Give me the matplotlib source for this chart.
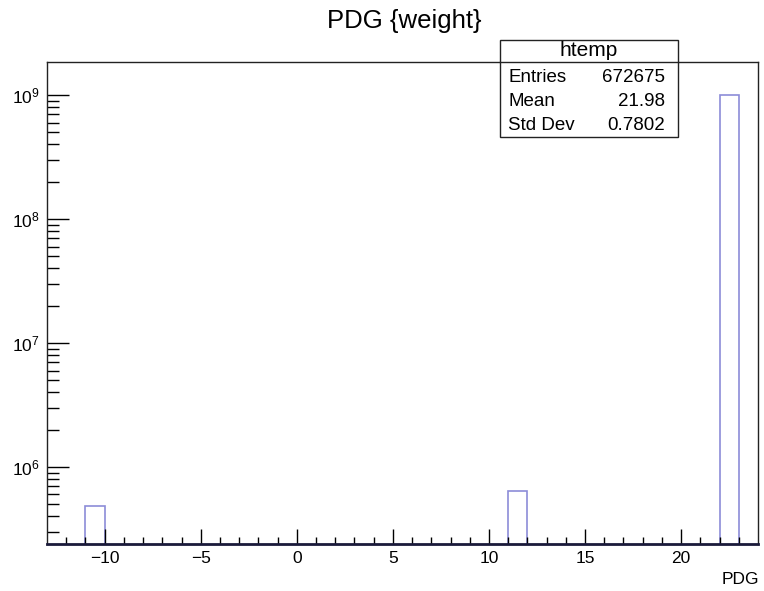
import numpy as np
import matplotlib
matplotlib.use("Agg")
import matplotlib.pyplot as plt

plt.rcParams['font.family'] = ['Liberation Sans', 'DejaVu Sans']
plt.rcParams['mathtext.fontset'] = 'custom'
plt.rcParams['mathtext.rm'] = 'Liberation Sans'
plt.rcParams['mathtext.it'] = 'Liberation Sans'

# data
pdg_codes = [-11, 11, 22]
pdg_weights = [4.87e5, 6.44e5, 1.0e9]
bin_edges = np.arange(-13, 25, 1)
stat_names = ["Entries", "Mean", "Std Dev"]
stat_values = ["672675", "21.98", "0.7802"]
ytick_vals = [1e6, 1e7, 1e8, 1e9]
ytick_labels = ["$10^{6}$", "$10^{7}$", "$10^{8}$", "$10^{9}$"]

W, H = 764, 591
fig = plt.figure(figsize=(W / 100, H / 100), dpi=100)
ax = fig.add_axes([47 / W, 1 - 544 / H, (758 - 47) / W, (544 - 62) / H])

counts, _ = np.histogram(pdg_codes, bins=bin_edges, weights=pdg_weights)
ymin, ymax = 2.39e5, 1.85e9
counts = np.where(counts > 0, counts, ymin * 0.5)
ax.stairs(counts, bin_edges, baseline=ymin * 0.5, color='#8c8cd8', linewidth=1.2)

ax.set_yscale('log')
ax.set_xlim(-13, 24)
ax.set_ylim(ymin, ymax)
ax.set_yticks(ytick_vals)
ax.set_yticklabels(ytick_labels, fontsize=12.5)
ax.set_xticks([-10, -5, 0, 5, 10, 15, 20])
ax.set_xticklabels(["\u221210", "\u22125", "0", "5", "10", "15", "20"], fontsize=12.5)
ax.set_xticks(np.arange(-12, 24, 1), minor=True)

ax.tick_params(axis='x', which='major', direction='in', length=11, width=1, pad=5, top=False)
ax.tick_params(axis='x', which='minor', direction='in', length=5, width=1, top=False)
ax.tick_params(axis='y', which='major', direction='in', length=16, width=1, pad=5, right=False)
ax.tick_params(axis='y', which='minor', direction='in', length=8.5, width=1, right=False)

for s in ax.spines.values():
    s.set_linewidth(1.0)
    s.set_color('#222222')
ax.spines['bottom'].set_linewidth(2.0)
ax.spines['bottom'].set_color('#1a1a3a')

fig.text(404 / W, 1 - 28 / H, "PDG {weight}", ha='center', va='baseline', fontsize=18.5)
fig.text(759 / W, 1 - 579 / H, "PDG", ha='right', va='center', fontsize=12.5)

# stats box
bx0, bx1, by0, by1, bdiv = 500, 678, 40, 137, 62
box = plt.Rectangle((bx0 / W, 1 - by1 / H), (bx1 - bx0) / W, (by1 - by0) / H,
                    transform=fig.transFigure, facecolor='white', edgecolor='#222222',
                    linewidth=1.0, zorder=5)
fig.add_artist(box)
fig.add_artist(plt.Line2D([bx0 / W, bx1 / W], [1 - bdiv / H, 1 - bdiv / H],
                          transform=fig.transFigure, color='#222222', linewidth=1.0, zorder=6))
fig.text((bx0 + bx1) / 2 / W, 1 - 51 / H, "htemp", ha='center', va='center', fontsize=15, zorder=7)
for i, (n, v) in enumerate(zip(stat_names, stat_values)):
    y = 1 - (78 + 23.5 * i) / H
    fig.text(508 / W, y, n, ha='left', va='center', fontsize=13.5, zorder=7)
    fig.text(665 / W, y, v, ha='right', va='center', fontsize=13.5, zorder=7)

fig.savefig("out.png", dpi=100)
